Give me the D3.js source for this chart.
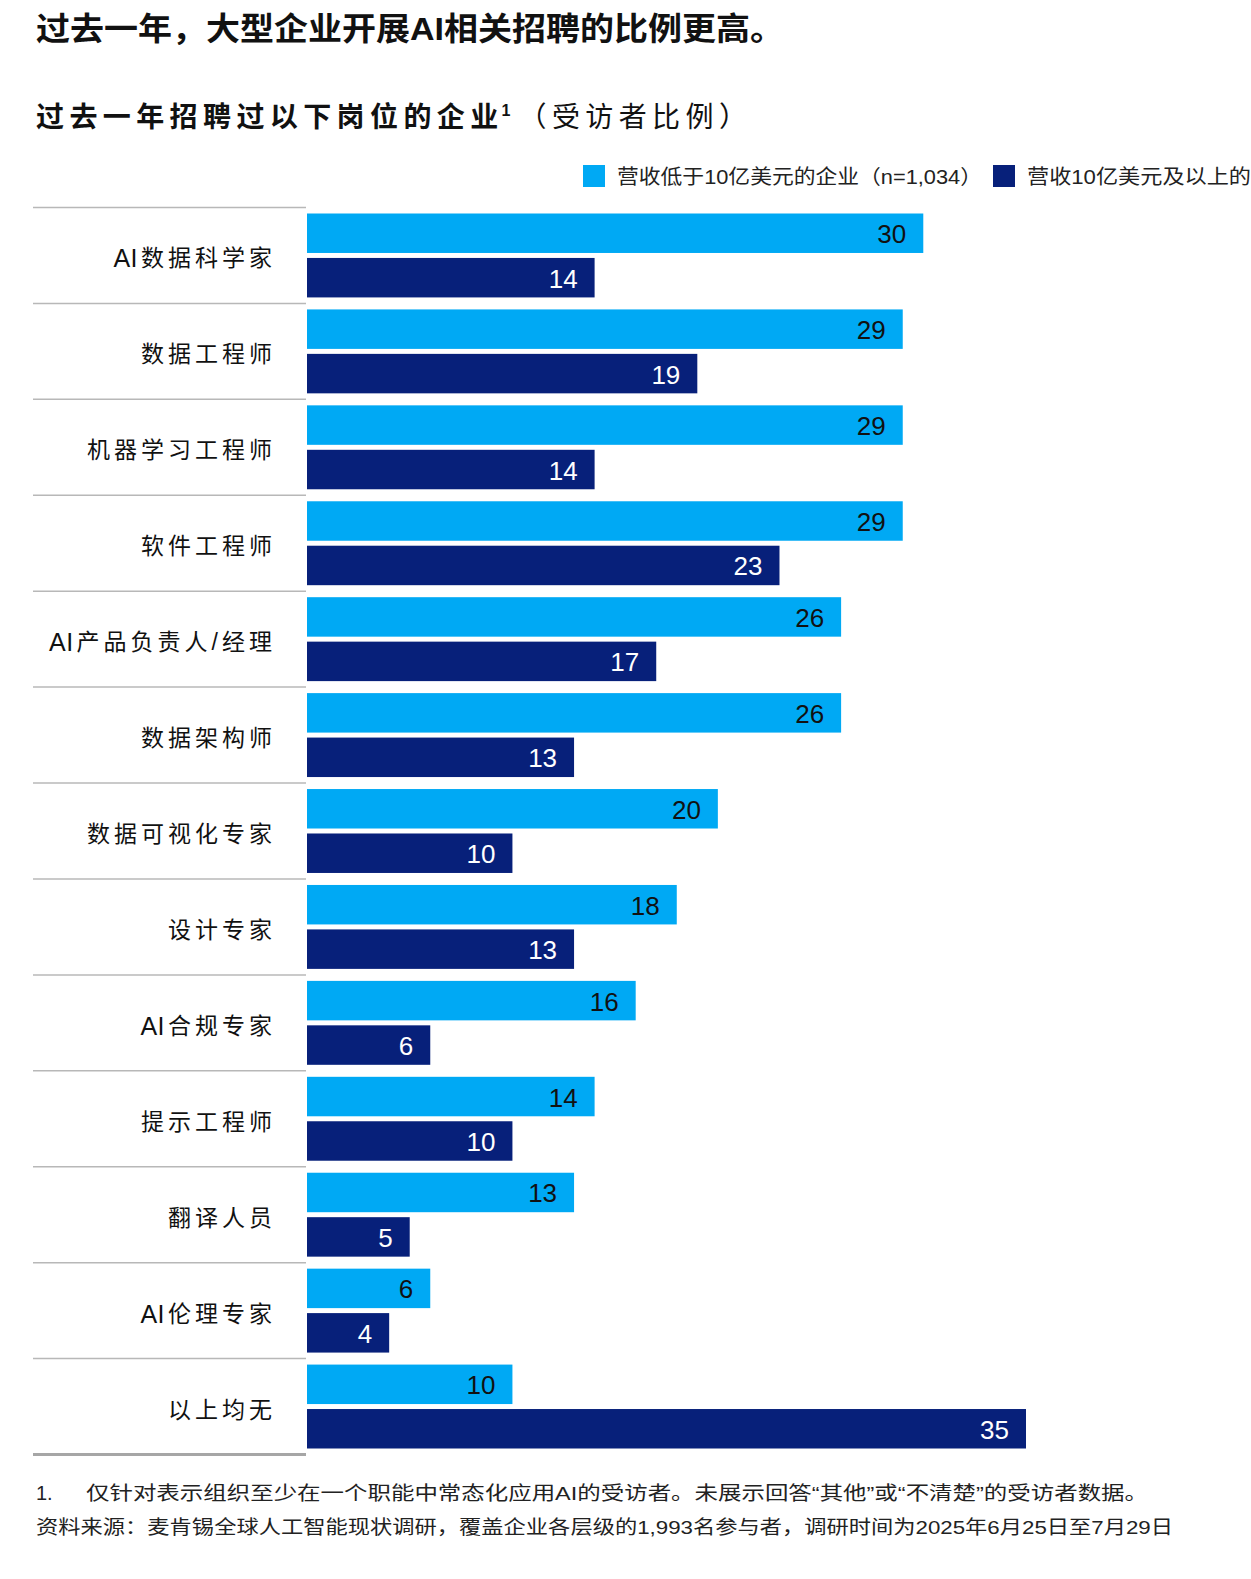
<!DOCTYPE html>
<html>
<head>
<meta charset="utf-8">
<script src="https://cdn.jsdelivr.net/npm/d3@7"></script>
<style>
  html, body { margin: 0; padding: 0; background: #fff; }
  svg { display: block; }
</style>
</head>
<body>
<div id="chart"></div>
<script>
// ---- data ----
const categories = [
  "AI数据科学家", "数据工程师", "机器学习工程师", "软件工程师", "AI产品负责人/经理",
  "数据架构师", "数据可视化专家", "设计专家", "AI合规专家", "提示工程师",
  "翻译人员", "AI伦理专家", "以上均无"
];
const seriesNames = ["营收低于10亿美元的企业（n=1,034）", "营收10亿美元及以上的"];
const smallCompanies = [30, 29, 29, 29, 26, 26, 20, 18, 16, 14, 13, 6, 10];
const largeCompanies = [14, 19, 14, 23, 17, 13, 10, 13, 6, 10, 5, 4, 35];
const titleText = "过去一年，大型企业开展AI相关招聘的比例更高。";
const subtitleBold = "过去一年招聘过以下岗位的企业";
const subtitleNote = "1";
const subtitleRest = "（受访者比例）";
const footnote1 = "仅针对表示组织至少在一个职能中常态化应用AI的受访者。未展示回答“其他”或“不清楚”的受访者数据。";
const footnote2 = "资料来源：麦肯锡全球人工智能现状调研，覆盖企业各层级的1,993名参与者，调研时间为2025年6月25日至7月29日";

// ---- styles ----
const W = 1251, H = 1579;
const colors = ["#00a9f4", "#07207a"];
const labelColors = ["#111", "#fff"];
const sans = "'Liberation Sans', Arial, 'Noto Sans CJK SC', sans-serif";

const rows = categories.map((c, i) => ({ cat: c, values: [smallCompanies[i], largeCompanies[i]] }));

const svg = d3.select("#chart").append("svg")
  .attr("width", W).attr("height", H)
  .style("font-family", sans);

svg.append("rect").attr("width", W).attr("height", H).attr("fill", "#fff");

// Title
svg.append("text")
  .attr("x", 36).attr("y", 40)
  .attr("font-size", 32).attr("font-weight", 700)
  .attr("textLength", 748).attr("lengthAdjust", "spacingAndGlyphs")
  .attr("fill", "#111")
  .text(titleText);

// Subtitle
const sub = svg.append("text")
  .attr("x", 36).attr("y", 127)
  .attr("font-size", 28)
  .attr("fill", "#111");
sub.append("tspan").attr("font-weight", 700).attr("letter-spacing", 5.4).text(subtitleBold);
sub.append("tspan").attr("font-weight", 700).attr("font-size", 16).attr("dy", -11).attr("dx", -2).text(subtitleNote);
sub.append("tspan").attr("dy", 11).attr("dx", 8).attr("letter-spacing", 5.4).text(subtitleRest);

// Legend
const legendItems = [
  { x: 583, tx: 617, len: 365 },
  { x: 993, tx: 1027, len: 224 }
];
legendItems.forEach((l, i) => {
  svg.append("rect").attr("x", l.x).attr("y", 165).attr("width", 22).attr("height", 22).attr("fill", colors[i]);
  svg.append("text").attr("x", l.tx).attr("y", 184)
    .attr("font-size", 20).attr("fill", "#222")
    .attr("textLength", l.len).attr("lengthAdjust", "spacingAndGlyphs")
    .text(seriesNames[i]);
});

// Scales
const x = d3.scaleLinear().domain([0, 35]).range([307, 1026]);
const y = d3.scaleBand().domain(categories).range([207.5, 1454.5]).paddingInner(0).paddingOuter(0);
const ySub = d3.scaleBand().domain([0, 1]).range([0, y.bandwidth()]).paddingInner(0.112).paddingOuter(0.135);

// Separator lines
const bounds = categories.map(c => y(c)).concat([y.range()[1]]);
svg.append("g").selectAll("line").data(bounds).join("line")
  .attr("x1", 33).attr("x2", 306)
  .attr("y1", d => d).attr("y2", d => d)
  .attr("stroke", (d, i) => i === bounds.length - 1 ? "#a6a6a6" : "#b8b8b8")
  .attr("stroke-width", (d, i) => i === bounds.length - 1 ? 3 : 1.5);

// Category labels: Latin letter runs tight and larger, CJK runs letter-spaced
const splitRuns = s => s.match(/[\x00-\x7f]+|[^\x00-\x7f]+/g);
const isLetters = r => /^[A-Za-z]+$/.test(r);
const catText = svg.append("g").selectAll("text").data(categories).join("text")
  .attr("x", 276)
  .attr("y", d => y(d) + y.bandwidth() / 2 + 3)
  .attr("text-anchor", "end")
  .attr("dominant-baseline", "central")
  .attr("font-size", 23)
  .attr("fill", "#111");
catText.selectAll("tspan").data(d => {
    const runs = splitRuns(d);
    return runs.map((r, i) => ({ r, prevLetters: i > 0 && isLetters(runs[i - 1]) }));
  }).join("tspan")
  .attr("font-size", d => isLetters(d.r) ? 25 : 23)
  .attr("letter-spacing", d => isLetters(d.r) ? 0.5 : 4)
  .attr("dx", d => d.prevLetters ? 3 : 0)
  .text(d => d.r);

// Bars
const groups = svg.append("g").selectAll("g").data(rows).join("g")
  .attr("transform", d => `translate(0,${y(d.cat)})`);

groups.selectAll("rect").data(d => d.values.map((v, k) => ({ v, k }))).join("rect")
  .attr("x", x(0))
  .attr("y", d => ySub(d.k))
  .attr("width", d => x(d.v) - x(0))
  .attr("height", ySub.bandwidth())
  .attr("fill", d => colors[d.k]);

groups.selectAll("text").data(d => d.values.map((v, k) => ({ v, k }))).join("text")
  .attr("x", d => x(d.v) - 17)
  .attr("y", d => ySub(d.k) + ySub.bandwidth() / 2 + 1)
  .attr("text-anchor", "end")
  .attr("dominant-baseline", "central")
  .attr("font-size", 26)
  .attr("fill", d => labelColors[d.k])
  .text(d => d.v);

// Footnotes
svg.append("text").attr("x", 36).attr("y", 1500).attr("font-size", 20).attr("fill", "#222").text("1.");
svg.append("text").attr("x", 86).attr("y", 1500).attr("font-size", 19).attr("fill", "#222")
  .attr("textLength", 1062).attr("lengthAdjust", "spacingAndGlyphs").text(footnote1);
svg.append("text").attr("x", 36).attr("y", 1534).attr("font-size", 19).attr("fill", "#222")
  .attr("textLength", 1137).attr("lengthAdjust", "spacingAndGlyphs").text(footnote2);
</script>
</body>
</html>
